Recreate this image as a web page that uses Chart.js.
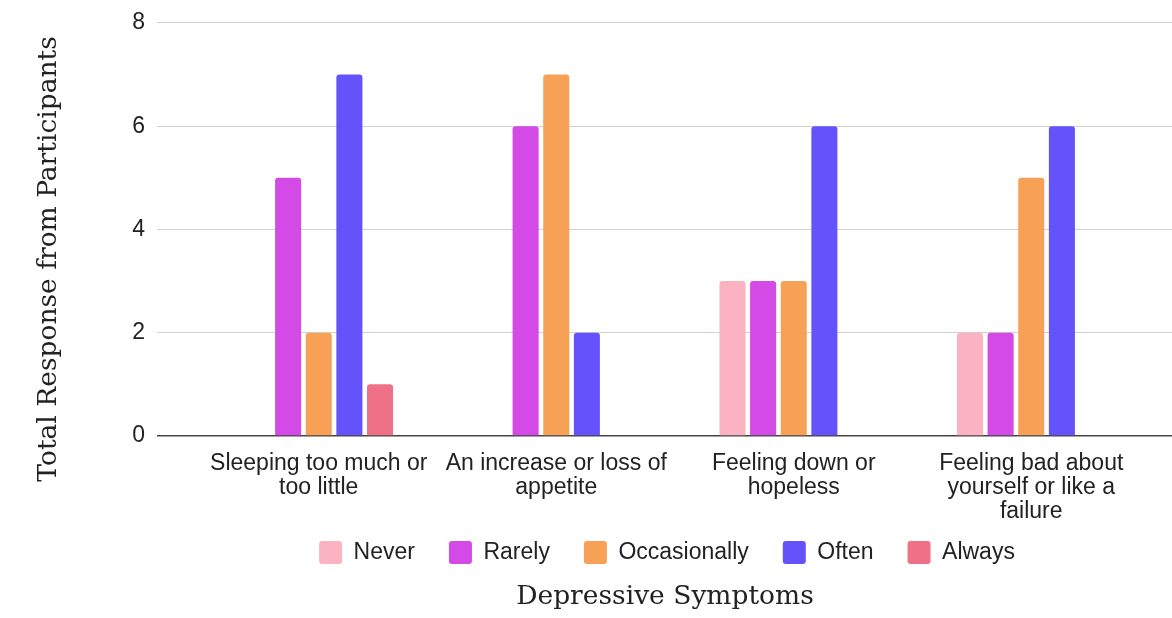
<!DOCTYPE html>
<html>
<head>
<meta charset="utf-8">
<script src="https://cdn.jsdelivr.net/npm/chart.js@4"></script>
<style>
  html, body { margin: 0; padding: 0; background: #fff; }
  #wrap { width: 1172px; height: 618px; }
</style>
</head>
<body>
<div id="wrap"><canvas id="myChart" width="1172" height="618"></canvas></div>
<script>
// categorie (etichette asse X, gia' spezzate su piu' righe)
const categories = [
  ['Sleeping too much or', 'too little'],
  ['An increase or loss of', 'appetite'],
  ['Feeling down or', 'hopeless'],
  ['Feeling bad about', 'yourself or like a', 'failure']
];
const never = [0, 0, 3, 2];
const rarely = [5, 6, 3, 2];
const occasionally = [2, 7, 3, 5];
const often = [7, 2, 6, 6];
const always = [1, 0, 0, 0];
const yTicks = [0, 2, 4, 6, 8];

const SANS = "'Liberation Sans', Arial, sans-serif";
const SERIF = "'DejaVu Serif', Georgia, serif";
const LEGEND_PAD = 34; // spazio tra le voci della legenda
const LEGEND_LIFT = 19; // la legenda sale un po' (il padding verticale e' lo stesso di quello orizzontale)
const LEGEND_SHIFT = 8; // legenda e titolo in basso un po' a sinistra del centro dell'area
const TITLE_SHIFT = 10;

// griglia: linea dello zero piu' scura
const gridColor = (ctx) => (ctx.tick && ctx.tick.value === 0) ? '#444444' : '#d0d0d0';
const gridWidth = (ctx) => (ctx.tick && ctx.tick.value === 0) ? 1.5 : 1;

function serie(label, data, color) {
  return {
    label: label,
    data: data,
    backgroundColor: color,
    borderWidth: 0,
    borderRadius: { topLeft: 3, topRight: 3 },
    categoryPercentage: 0.645,
    barPercentage: 0.85
  };
}

const chartData = {
  labels: categories,
  datasets: [
    serie('Never', never, '#fbb3c1'),
    serie('Rarely', rarely, '#d44ae6'),
    serie('Occasionally', occasionally, '#f7a156'),
    serie('Often', often, '#6453fa'),
    serie('Always', always, '#ef7187')
  ]
};

const bottomBoxes = {
  id: 'bottomBoxes',
  afterLayout(chart) {
    const lg = chart.legend;
    if (lg) {
      lg.top -= LEGEND_LIFT;
      lg.bottom -= LEGEND_LIFT;
      lg.left -= LEGEND_SHIFT;
      lg.right -= LEGEND_SHIFT;
    }
    const tt = chart.titleBlock;
    if (tt) {
      tt.left -= TITLE_SHIFT;
      tt.right -= TITLE_SHIFT;
    }
  }
};

const chartConfig = {
  type: 'bar',
  data: chartData,
  plugins: [bottomBoxes],
  options: {
    responsive: false,
    animation: false,
    layout: { padding: { top: 0, left: 0, right: 0, bottom: 0 } },
    scales: {
      x: {
        afterFit: (scale) => { scale.height = 90; },
        grid: { display: false, drawTicks: false },
        border: { display: false },
        ticks: {
          color: '#222',
          font: { family: SANS, size: 23, lineHeight: 1.04 },
          padding: 16,
          maxRotation: 0,
          autoSkip: false
        }
      },
      y: {
        min: 0,
        max: 8,
        afterBuildTicks: (scale) => { scale.ticks = yTicks.map(v => ({ value: v })); },
        afterFit: (scale) => { scale.width = 200; },
        grid: { color: gridColor, lineWidth: gridWidth, tickLength: 43 },
        border: { display: false },
        ticks: {
          color: '#222',
          // lineHeight basso: decide anche il margine sopra l'area del grafico
          font: { family: SANS, size: 23, lineHeight: 0.95 },
          padding: 12
        },
        title: {
          display: true,
          // spazi finali: spostano il titolo verso il basso come nell'originale
          text: 'Total Response from Participants       ',
          color: '#222',
          font: { family: SERIF, size: 26.5 },
          padding: { top: 33, bottom: 0 }
        }
      },
      y2: {
        position: 'right',
        min: 0,
        max: 8,
        afterBuildTicks: (scale) => { scale.ticks = yTicks.map(v => ({ value: v })); },
        afterFit: (scale) => { scale.width = 22; },
        grid: { color: gridColor, lineWidth: gridWidth, tickLength: 22, drawOnChartArea: false },
        border: { display: false },
        ticks: { display: false }
      }
    },
    plugins: {
      legend: {
        position: 'bottom',
        fullSize: false,
        maxHeight: 58,
        labels: {
          color: '#222',
          font: { family: SANS, size: 23 },
          boxWidth: 23,
          boxHeight: 23,
          useBorderRadius: true,
          borderRadius: 3,
          padding: LEGEND_PAD
        }
      },
      title: {
        display: true,
        position: 'bottom',
        fullSize: false,
        text: 'Depressive Symptoms',
        color: '#222',
        font: { family: SERIF, size: 26.5, weight: 'normal', lineHeight: 1 },
        padding: { top: 0, bottom: 7.5 }
      },
      tooltip: { enabled: false }
    }
  }
};

const myChart = new Chart(document.getElementById('myChart'), chartConfig);
</script>
</body>
</html>
